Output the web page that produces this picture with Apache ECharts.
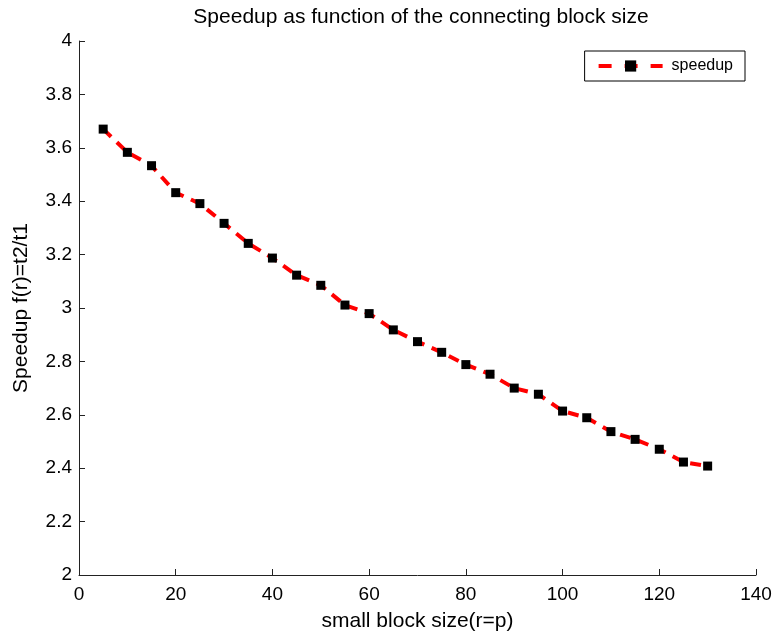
<!DOCTYPE html>
<html>
<head>
<meta charset="utf-8">
<script src="https://cdn.jsdelivr.net/npm/echarts@6/dist/echarts.min.js"></script>
<style>
  html, body { margin: 0; padding: 0; background: #fff; }
  #chart { width: 776px; height: 631px; }
</style>
</head>
<body>
<div id="chart"></div>
<script>
const blockSizes = [5, 10, 15, 20, 25, 30, 35, 40, 45, 50, 55, 60, 65, 70, 75, 80, 85, 90, 95, 100, 105, 110, 115, 120, 125, 130];
const speedup = [3.670, 3.583, 3.533, 3.432, 3.391, 3.317, 3.242, 3.187, 3.123, 3.085, 3.011, 2.979, 2.918, 2.874, 2.834, 2.788, 2.752, 2.700, 2.677, 2.614, 2.589, 2.537, 2.508, 2.471, 2.423, 2.408];

const font = "Liberation Sans, Arial, sans-serif";
const chart = echarts.init(document.getElementById("chart"));

const axisLine = { show: true, lineStyle: { color: "#222", width: 1 } };
const axisTick = { show: true, inside: true, length: 6, lineStyle: { color: "#222" } };

chart.setOption({
  animation: false,
  backgroundColor: "#fff",
  title: {
    text: "Speedup as function of the connecting block size",
    left: 416,
    textAlign: "center",
    top: 2,
    textStyle: { fontFamily: font, fontSize: 21, fontWeight: "normal", color: "#000" }
  },
  legend: {
    data: ["speedup"],
    right: 31,
    top: 51,
    itemWidth: 64,
    itemHeight: 14,
    padding: [7, 12, 7, 12],
    borderColor: "#000",
    borderWidth: 1,
    borderRadius: 0,
    lineStyle: { type: [13, 13], width: 4, color: "#ff0000" },
    textStyle: { fontFamily: font, fontSize: 16, color: "#000", padding: [0, 0, 0, 4] }
  },
  grid: { left: 79, right: 20, top: 41, bottom: 56, outerBoundsMode: "none", containLabel: false },
  xAxis: {
    type: "value",
    min: 0,
    max: 140,
    interval: 20,
    name: "small block size(r=p)",
    nameLocation: "middle",
    nameGap: 36,
    nameTextStyle: { fontFamily: font, fontSize: 21, color: "#000" },
    axisLine: axisLine,
    axisTick: axisTick,
    axisLabel: { fontFamily: font, fontSize: 19, color: "#000", margin: 10 },
    splitLine: { show: false }
  },
  yAxis: {
    type: "value",
    min: 2,
    max: 4,
    interval: 0.2,
    name: "Speedup f(r)=t2/t1",
    nameLocation: "middle",
    nameGap: 47,
    nameTextStyle: { fontFamily: font, fontSize: 21, color: "#000" },
    axisLine: axisLine,
    axisTick: axisTick,
    axisLabel: {
      fontFamily: font, fontSize: 19, color: "#000", margin: 7,
      formatter: v => String(Math.round(v * 10) / 10)
    },
    splitLine: { show: false }
  },
  series: [{
    name: "speedup",
    type: "line",
    data: blockSizes.map((x, i) => [x, speedup[i]]),
    symbol: "rect",
    symbolSize: 9,
    itemStyle: { color: "#000" },
    lineStyle: { color: "#ff0000", width: 4, type: [11, 8] },
    z: 3
  }]
});
</script>
</body>
</html>
